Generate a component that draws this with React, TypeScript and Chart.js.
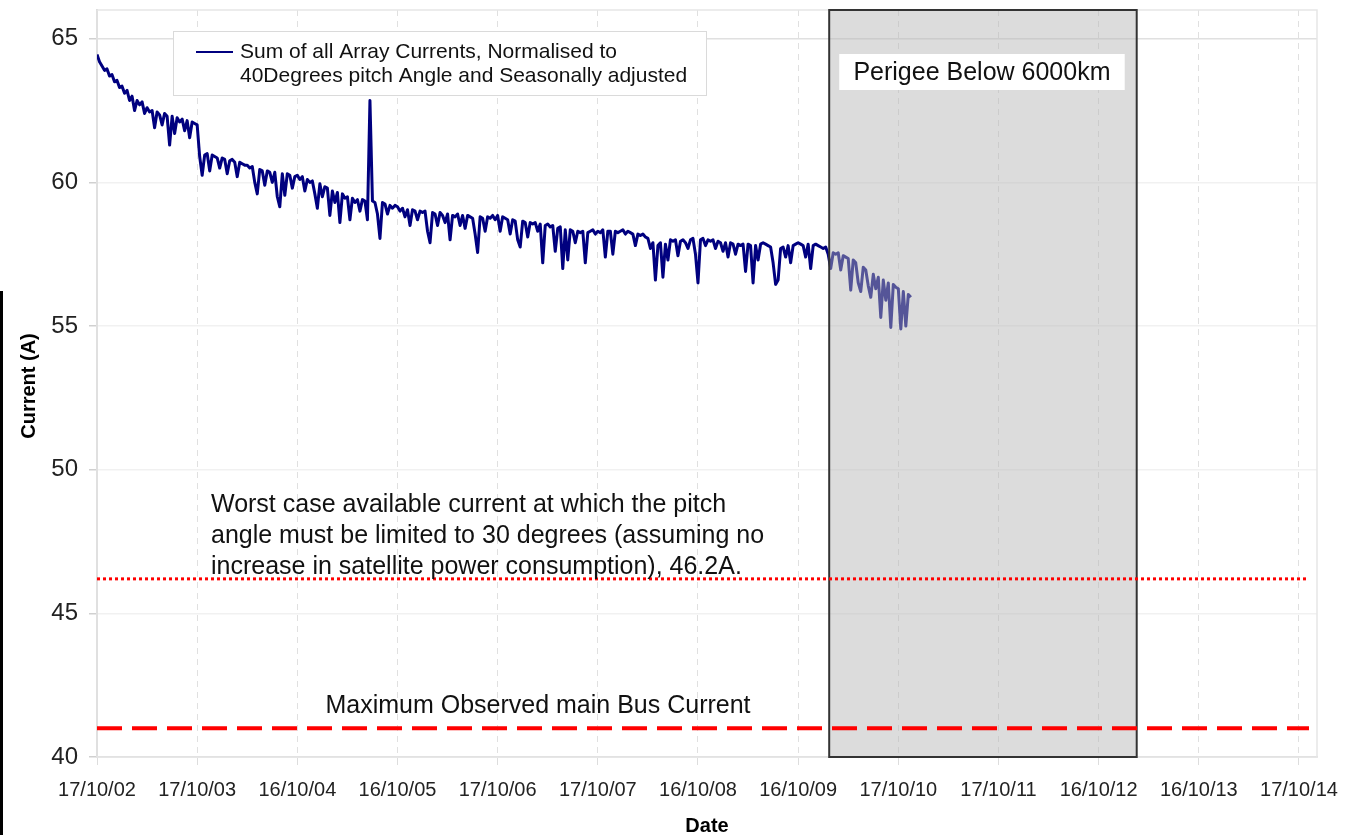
import React, { useEffect, useRef } from "react";
import { Chart, registerables } from "chart.js";

Chart.register(...registerables);

// ---- data ----
const dateLabels = [
  "17/10/02", "17/10/03", "16/10/04", "16/10/05", "17/10/06", "17/10/07", "16/10/08",
  "16/10/09", "17/10/10", "17/10/11", "16/10/12", "16/10/13", "17/10/14",
];
const yTickValues = [40, 45, 50, 55, 60, 65];
const sampleStepYears = 0.025; // one sample every ~9 days

const currents2002to2004 = [
  64.45, 64.2, 64.05, 63.9, 63.95, 63.7, 63.75, 63.5, 63.55, 63.3, 63.35, 63.1, 63.2, 62.85, 63.0, 62.5, 62.85, 62.7, 62.8, 62.4,
  62.6, 62.45, 62.5, 61.9, 62.45, 62.35, 62.0, 62.4, 62.3, 61.3, 62.3, 61.7, 62.25, 62.1, 62.2, 61.8, 62.15, 61.55, 62.1, 62.05,
  62.0, 60.9, 60.25, 60.95, 61.0, 60.4, 60.95, 60.9, 60.85, 60.5, 60.85, 60.8, 60.3, 60.75, 60.8, 60.7, 60.2, 60.7, 60.65, 60.6,
  60.6, 60.5, 60.55, 60.0, 59.6, 60.45, 60.4, 59.9, 60.4, 60.35, 60.0, 60.35, 59.5, 59.15, 60.3, 59.55, 60.3, 60.25, 59.8, 60.2,
  60.25, 60.1, 60.2, 59.7, 60.1, 60.0, 60.05, 59.6, 59.1, 59.95, 59.5, 59.85, 59.8, 58.85, 59.7, 59.3, 59.65, 58.6, 59.6, 59.45,
  59.5, 58.7, 59.45, 59.3, 59.4, 59.0, 59.4, 59.35, 58.7, 62.85, 59.35, 59.3, 58.9, 58.05, 59.3, 59.25, 58.9, 59.2, 59.1, 59.2,
];
const currents2005to2007 = [
  59.15, 59.0, 59.1, 58.8, 59.05, 58.5, 59.05, 59.0, 58.7, 59.0, 58.95, 59.0, 58.3, 57.9, 58.95, 58.9, 58.5, 58.95, 58.85, 58.6,
  58.9, 58.0, 58.85, 58.8, 58.9, 58.5, 58.85, 58.4, 58.85, 58.8, 58.75, 58.2, 57.56, 58.8, 58.75, 58.3, 58.8, 58.75, 58.85, 58.7,
  58.85, 58.3, 58.8, 58.75, 58.7, 58.2, 58.7, 58.65, 58.0, 57.75, 58.65, 58.6, 58.1, 58.6, 58.55, 58.6, 58.3, 58.55, 57.2, 58.5,
  58.55, 58.45, 58.5, 57.6, 58.4, 58.45, 57.0, 58.35, 57.3, 58.35, 58.3, 57.9, 58.3, 58.25, 58.3, 57.2, 58.25, 58.3, 58.35, 58.2,
  58.3, 58.25, 58.35, 57.4, 58.3, 58.3, 57.5, 58.3, 58.25, 58.3, 58.35, 58.2, 58.3, 58.25, 58.2, 57.8, 58.2, 58.15, 58.2, 58.1,
  58.05, 57.7, 57.9, 56.6, 57.8, 57.9, 56.7, 57.85, 57.3, 58.0, 57.95, 58.0, 57.45, 57.95, 58.0, 57.9, 57.7, 58.0, 58.05, 57.5,
];
const currents2008to2010 = [
  56.5, 58.0, 58.05, 57.8, 58.0, 57.95, 58.0, 57.7, 57.95, 57.9, 57.6, 57.9, 57.4, 57.9, 57.85, 57.5, 57.85, 57.8, 57.85, 56.9,
  57.85, 57.8, 56.5, 57.8, 57.3, 57.85, 57.9, 57.85, 57.8, 57.75, 57.2, 56.45, 56.6, 57.7, 57.75, 57.4, 57.8, 57.2, 57.8, 57.85,
  57.9, 57.85, 57.8, 57.4, 57.85, 57.0, 57.8, 57.85, 57.8, 57.75, 57.7, 57.75, 57.5, 57.0, 57.55, 57.5, 57.55, 56.95, 57.45, 57.4,
  57.35, 56.25, 57.3, 57.2, 56.5, 56.2, 57.05, 56.95, 56.4, 56.0, 56.8, 56.3, 56.7, 55.3, 56.6, 55.9, 56.5, 54.95, 56.45, 56.35,
  56.3, 54.9, 56.2, 55.0, 56.1, 56.0,
];

const worstCaseCurrent = 46.2;
const maxBusCurrent = 41;
const perigeeStartYears = 7.31;
const perigeeEndYears = 10.38;
const xMaxYears = 12.18;
const refLineEndYears = 12.1;

const seriesLabel = ["Sum of all Array Currents, Normalised to", "40Degrees pitch Angle and Seasonally adjusted"];
const worstCaseText = [
  "Worst case available current at which the pitch",
  "angle must be limited to 30 degrees (assuming no",
  "increase in satellite power consumption), 46.2A.",
];
const maxBusText = "Maximum Observed main Bus Current";
const perigeeText = "Perigee Below 6000km";

const FONT = "'Liberation Sans', Arial, Helvetica, sans-serif";

export default function App() {
  const canvasRef = useRef<HTMLCanvasElement | null>(null);

  useEffect(() => {
    document.body.style.margin = "0";
    const canvas = canvasRef.current;
    if (!canvas) return;

    const allCurrents = [...currents2002to2004, ...currents2005to2007, ...currents2008to2010];
    const seriesPoints = allCurrents.map((v, i) => ({ x: i * sampleStepYears, y: v }));

    const overlayPlugin = {
      id: "overlayPlugin",
      beforeDatasetsDraw(chart: any) {
        const { ctx, chartArea } = chart;
        ctx.save();
        ctx.strokeStyle = "#e6e6e6";
        ctx.lineWidth = 1.5;
        ctx.strokeRect(chartArea.left, chartArea.top, chartArea.right - chartArea.left, chartArea.bottom - chartArea.top);
        ctx.restore();
      },
      afterDatasetDraw(chart: any, args: any) {
        if (args.index !== 0) return;
        const { ctx, chartArea, scales } = chart;
        const x1 = scales.x.getPixelForValue(perigeeStartYears);
        const x2 = scales.x.getPixelForValue(perigeeEndYears);
        ctx.save();
        ctx.fillStyle = "rgba(181,181,181,0.47)";
        ctx.fillRect(x1, chartArea.top, x2 - x1, chartArea.bottom - chartArea.top);
        ctx.strokeStyle = "#333333";
        ctx.lineWidth = 2;
        ctx.strokeRect(x1, chartArea.top, x2 - x1, chartArea.bottom - chartArea.top);
        ctx.restore();
      },
      afterDraw(chart: any) {
        const { ctx, scales } = chart;
        const xs = scales.x;
        const ys = scales.y;
        ctx.save();
        // legend
        ctx.fillStyle = "#ffffff";
        ctx.fillRect(173, 31, 533, 64);
        ctx.strokeStyle = "#dadada";
        ctx.lineWidth = 1;
        ctx.strokeRect(173.5, 31.5, 533, 64);
        ctx.strokeStyle = "#00007f";
        ctx.lineWidth = 2;
        ctx.beginPath();
        ctx.moveTo(196, 52);
        ctx.lineTo(233, 52);
        ctx.stroke();
        ctx.fillStyle = "#111111";
        ctx.font = `21px ${FONT}`;
        ctx.textAlign = "left";
        ctx.textBaseline = "middle";
        ctx.fillText(seriesLabel[0], 240, 52);
        ctx.fillText(seriesLabel[1], 240, 76);

        // perigee label
        const px1 = xs.getPixelForValue(perigeeStartYears);
        const px2 = xs.getPixelForValue(perigeeEndYears);
        ctx.fillStyle = "#ffffff";
        ctx.fillRect(px1 + 10, 54, px2 - px1 - 22, 36);
        ctx.fillStyle = "#111111";
        ctx.font = `25px ${FONT}`;
        ctx.textAlign = "center";
        ctx.fillText(perigeeText, (px1 + px2) / 2 - 1, 73);

        // annotations
        ctx.font = `25px ${FONT}`;
        ctx.textAlign = "left";
        const wy = ys.getPixelForValue(worstCaseCurrent);
        ctx.fillText(worstCaseText[0], 211, wy - 74);
        ctx.fillText(worstCaseText[1], 211, wy - 43);
        ctx.fillText(worstCaseText[2], 211, wy - 12);
        ctx.textAlign = "center";
        ctx.fillText(maxBusText, 538, ys.getPixelForValue(maxBusCurrent) - 22);

        // axis titles
        ctx.fillStyle = "#000000";
        ctx.font = `bold 20px ${FONT}`;
        ctx.fillText("Date", (chart.chartArea.left + chart.chartArea.right) / 2, 826);
        ctx.save();
        ctx.translate(29, 386);
        ctx.rotate(-Math.PI / 2);
        ctx.fillText("Current (A)", 0, 0);
        ctx.restore();

        // left edge bar of the source picture
        ctx.fillStyle = "#000000";
        ctx.fillRect(0, 291, 3, 544);
        ctx.restore();
      },
    };

    const chart = new Chart(canvas, {
      type: "line",
      data: {
        datasets: [
          {
            label: seriesLabel.join(" "),
            data: seriesPoints,
            borderColor: "#00007f",
            borderWidth: 3,
            borderJoinStyle: "round",
            pointRadius: 0,
            tension: 0,
            order: 2,
          },
          {
            label: "worst",
            data: [
              { x: 0, y: worstCaseCurrent },
              { x: refLineEndYears, y: worstCaseCurrent },
            ],
            borderColor: "#ff0000",
            borderWidth: 3,
            borderDash: [3, 3],
            pointRadius: 0,
            order: 0,
          },
          {
            label: "maxbus",
            data: [
              { x: 0, y: maxBusCurrent },
              { x: refLineEndYears, y: maxBusCurrent },
            ],
            borderColor: "#ff0000",
            borderWidth: 4,
            borderDash: [25, 10],
            pointRadius: 0,
            order: 1,
          },
        ],
      },
      options: {
        responsive: false,
        animation: false,
        events: [],
        layout: { padding: { top: 10, right: 30, left: 0, bottom: 0 } },
        plugins: { legend: { display: false }, tooltip: { enabled: false }, title: { display: false } },
        scales: {
          x: {
            type: "linear",
            min: 0,
            max: xMaxYears,
            afterBuildTicks: (scale: any) => {
              scale.ticks = dateLabels.map((_, i) => ({ value: i }));
            },
            afterFit: (scale: any) => {
              scale.height = 78;
              scale.paddingLeft = 0;
              scale.paddingRight = 0;
            },
            ticks: {
              callback: (v: any) => dateLabels[Math.round(Number(v))] ?? "",
              font: { family: FONT, size: 20 },
              color: "#222222",
              padding: 13,
              maxRotation: 0,
              minRotation: 0,
              autoSkip: false,
            },
            grid: {
              color: "#e0e0e0",
              lineWidth: 1,
              tickLength: 8,
              tickColor: "#dddddd",
            },
            border: { display: true, color: "#d8d8d8", width: 1.5, dash: [6, 5] },
          },
          y: {
            min: 40,
            max: 66,
            afterBuildTicks: (scale: any) => {
              scale.ticks = yTickValues.map((v) => ({ value: v }));
            },
            afterFit: (scale: any) => {
              scale.width = 97;
              scale.paddingTop = 0;
              scale.paddingBottom = 0;
            },
            ticks: {
              font: { family: FONT, size: 24 },
              color: "#222222",
              padding: 11,
            },
            grid: {
              color: (c: any) => (c.tick && c.tick.value === 65 ? "#e0e0e0" : "#f1f1f1"),
              lineWidth: 1.5,
              tickLength: 8,
              tickColor: "#d0d0d0",
            },
            border: { display: true, color: "#cfcfcf", width: 2 },
          },
        },
      },
      plugins: [overlayPlugin],
    });

    return () => chart.destroy();
  }, []);

  return (
    <div style={{ width: 1347, height: 835, background: "#ffffff" }}>
      <canvas ref={canvasRef} width={1347} height={835} style={{ display: "block" }} />
    </div>
  );
}
